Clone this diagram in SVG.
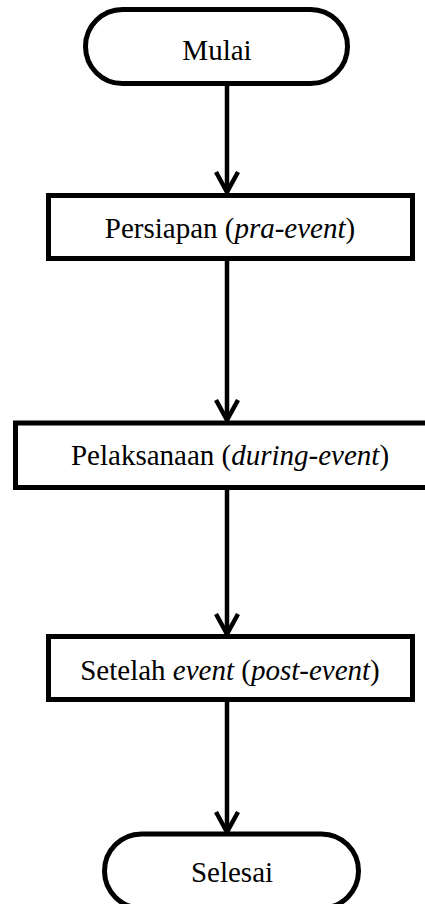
<svg xmlns="http://www.w3.org/2000/svg" width="425" height="904" viewBox="0 0 425 904">
<style>
.shape{fill:#fff;stroke:#000;stroke-width:5}
.lbl{font-family:"Liberation Serif","Times New Roman",serif;font-size:29px;fill:#000;text-anchor:middle}
.conn{stroke:#000;stroke-width:4.5;fill:none}
</style>
<defs>
<marker id="arr" markerUnits="userSpaceOnUse" markerWidth="30" markerHeight="30" refX="0" refY="0" viewBox="-25 -15 30 30" orient="auto" overflow="visible">
<path d="M-20,-11 L0,0 L-20,11" fill="none" stroke="#000" stroke-width="4.5" stroke-linejoin="miter"/>
</marker>
</defs>
<rect width="425" height="904" fill="#fff"/>
<g id="connectors">
<line class="conn" x1="227" y1="85" x2="227" y2="192" marker-end="url(#arr)"/>
<line class="conn" x1="227" y1="260" x2="227" y2="420" marker-end="url(#arr)"/>
<line class="conn" x1="227" y1="490" x2="227" y2="634" marker-end="url(#arr)"/>
<line class="conn" x1="227" y1="701" x2="227" y2="832" marker-end="url(#arr)"/>
</g>
<g id="mulai">
<rect class="shape" x="85.5" y="9.5" width="262" height="74" rx="37" ry="37"/>
<text class="lbl" x="217" y="60">Mulai</text>
</g>
<g id="persiapan">
<rect class="shape" x="48.5" y="195.5" width="364" height="63"/>
<text class="lbl" x="230" y="238">Persiapan (<tspan font-style="italic">pra-event</tspan>)</text>
</g>
<g id="pelaksanaan">
<rect class="shape" x="15.5" y="423" width="430" height="64.5"/>
<text class="lbl" x="230" y="465">Pelaksanaan (<tspan font-style="italic">during-event</tspan>)</text>
</g>
<g id="setelah">
<rect class="shape" x="48.5" y="636.5" width="364" height="63"/>
<text class="lbl" x="230" y="680">Setelah <tspan font-style="italic">event</tspan> (<tspan font-style="italic">post-event</tspan>)</text>
</g>
<g id="selesai">
<rect class="shape" x="104.5" y="834" width="254" height="74" rx="37" ry="37"/>
<text class="lbl" x="232" y="882">Selesai</text>
</g>
</svg>
